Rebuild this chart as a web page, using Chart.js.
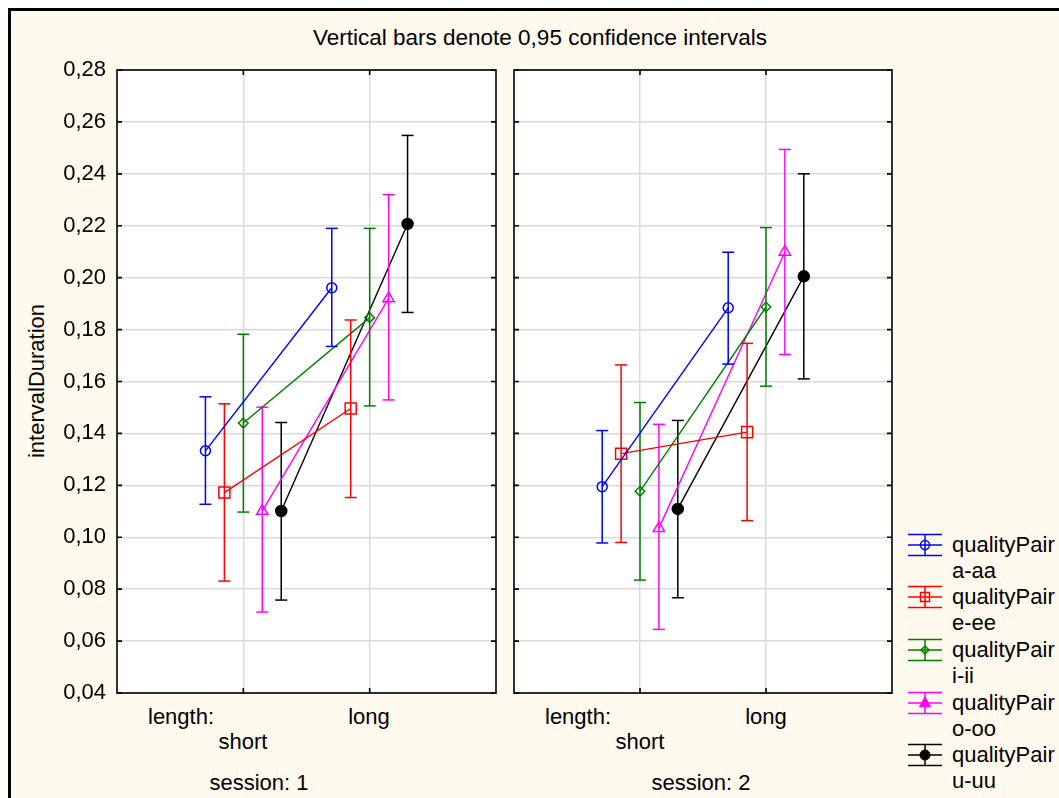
<!DOCTYPE html>
<html>
<head>
<meta charset="utf-8">
<script src="https://cdn.jsdelivr.net/npm/chart.js@4.4.0/dist/chart.umd.min.js"></script>
<style>
body { margin: 0; background: #fff; width: 1059px; height: 798px; overflow: hidden; position: relative; font-family: "Liberation Sans", Arial, sans-serif; color: #000; }
#frame { position: absolute; left: 8px; top: 8px; width: 1100px; height: 850px; border-left: 3px solid #000; border-top: 3px solid #000; background: #fff9ee; box-sizing: border-box; }
.t { position: absolute; font-size: 22px; line-height: 24px; white-space: nowrap; transform: translate(-50%, -50%); }
.l { position: absolute; font-size: 22px; line-height: 24px; white-space: nowrap; transform: translateY(-50%); }
canvas { position: absolute; }
.leg { position: absolute; left: 907px; }
.legtxt { position: absolute; left: 952px; font-size: 22px; line-height: 26px; white-space: nowrap; }
</style>
</head>
<body>
<div id="frame"></div>

<div class="t" style="left:540px;top:38px;font-size:22.5px">Vertical bars denote 0,95 confidence intervals</div>
<div class="t" style="left:37px;top:381px;transform:translate(-50%,-50%) rotate(-90deg)">intervalDuration</div>

<div class="l" style="left:148px;top:717px">length:</div>
<div class="t" style="left:243px;top:742px">short</div>
<div class="t" style="left:369px;top:717px">long</div>
<div class="t" style="left:259px;top:783px">session: 1</div>

<div class="l" style="left:545px;top:717px">length:</div>
<div class="t" style="left:640px;top:742px">short</div>
<div class="t" style="left:766px;top:717px">long</div>
<div class="t" style="left:701px;top:783px">session: 2</div>

<canvas id="p1" width="460" height="650" style="left:40px;top:58px"></canvas>
<canvas id="p2" width="400" height="650" style="left:500px;top:58px"></canvas>
<div id="legend"></div>

<script>
// categories and series
const categories = ['short', 'long'];
const pairs = ['a-aa', 'e-ee', 'i-ii', 'o-oo', 'u-uu'];
const colors = ['#0000ff', '#ff0000', '#008000', '#ff00ff', '#000000'];

// session 1: [short, long] per quality pair
const s1Mean  = [[0.1333, 0.1961], [0.1172, 0.1496], [0.1440, 0.1846], [0.1101, 0.1920], [0.1101, 0.2207]];
const s1Lower = [[0.1127, 0.1735], [0.0831, 0.1153], [0.1097, 0.1506], [0.0712, 0.1529], [0.0758, 0.1866]];
const s1Upper = [[0.1541, 0.2190], [0.1514, 0.1837], [0.1782, 0.2190], [0.1501, 0.2320], [0.1442, 0.2548]];

// session 2
const s2Mean  = [[0.1195, 0.1884], [0.1322, 0.1405], [0.1177, 0.1887], [0.1035, 0.2099], [0.1109, 0.2005]];
const s2Lower = [[0.0978, 0.1667], [0.0980, 0.1064], [0.0835, 0.1582], [0.0645, 0.1704], [0.0767, 0.1610]];
const s2Upper = [[0.1411, 0.2098], [0.1664, 0.1747], [0.1519, 0.2193], [0.1435, 0.2494], [0.1450, 0.2400]];

const yTicks = [0.04, 0.06, 0.08, 0.10, 0.12, 0.14, 0.16, 0.18, 0.20, 0.22, 0.24, 0.26, 0.28];

const offsets = [-0.3, -0.15, 0, 0.15, 0.3];
const pointStyles = ['circle', 'rect', 'rectRot', 'triangle', 'circle'];
const pointRadii = [5, 7.8, 4.8, 6.5, 5.5];
const fills = ['transparent', 'transparent', 'transparent', 'transparent', '#000000'];

const framePlugin = {
    id: 'frame',
    beforeDraw(chart) {
        const { ctx, chartArea: a } = chart;
        ctx.save();
        ctx.fillStyle = '#fff';
        ctx.fillRect(a.left, a.top, a.right - a.left, a.bottom - a.top);
        ctx.restore();
    },
    beforeDatasetsDraw(chart) {
        const { ctx, chartArea: a, scales } = chart;
        ctx.save();
        ctx.strokeStyle = '#000';
        ctx.lineWidth = 1.6;
        ctx.strokeRect(a.left, a.top, a.right - a.left, a.bottom - a.top);
        ctx.beginPath();
        scales.y.ticks.forEach(t => {
            const py = scales.y.getPixelForValue(t.value);
            ctx.moveTo(a.left, py); ctx.lineTo(a.left + 5, py);
            ctx.moveTo(a.right, py); ctx.lineTo(a.right - 5, py);
        });
        scales.x.ticks.forEach(t => {
            const px = scales.x.getPixelForValue(t.value);
            ctx.moveTo(px, a.top); ctx.lineTo(px, a.top + 5);
            ctx.moveTo(px, a.bottom); ctx.lineTo(px, a.bottom - 5);
        });
        ctx.stroke();
        ctx.restore();
    }
};

function buildDatasets(mean, lower, upper) {
    const ds = [];
    pairs.forEach((p, i) => {
        const xs = categories.map((c, j) => j + 1 + offsets[i]);
        ds.push({
            label: 'qualityPair ' + p,
            data: xs.map((x, j) => ({ x: x, y: mean[i][j] })),
            borderColor: colors[i],
            borderWidth: 1.4,
            pointStyle: pointStyles[i],
            pointRadius: pointRadii[i],
            pointBorderColor: colors[i],
            pointBackgroundColor: fills[i],
            pointBorderWidth: 1.5
        });
        const err = [];
        xs.forEach((x, j) => {
            if (j > 0) err.push({ x: x, y: null });
            err.push({ x: x, y: lower[i][j] });
            err.push({ x: x, y: upper[i][j] });
        });
        ds.push({
            label: 'ci ' + p,
            data: err,
            borderColor: colors[i],
            borderWidth: 1.5,
            pointStyle: 'line',
            pointRadius: 6,
            pointBorderColor: colors[i],
            pointBorderWidth: 1.5,
            spanGaps: false
        });
    });
    return ds;
}

function makePanel(id, mean, lower, upper, showY, padding, yWidth) {
    const ctx = document.getElementById(id).getContext('2d');
    return new Chart(ctx, {
        type: 'line',
        data: { datasets: buildDatasets(mean, lower, upper) },
        options: {
            responsive: false,
            animation: false,
            events: [],
            layout: { padding: padding, autoPadding: false },
            plugins: { legend: { display: false }, tooltip: { enabled: false } },
            scales: {
                x: {
                    type: 'linear', min: 0, max: 3,
                    afterBuildTicks: s => { s.ticks = [{ value: 1 }, { value: 2 }]; },
                    afterFit: s => { s.height = 0; s.paddingLeft = 0; s.paddingRight = 0; },
                    ticks: { display: false },
                    grid: { color: '#d9d9d9', lineWidth: 1.5, drawTicks: false },
                    border: { display: false }
                },
                y: {
                    type: 'linear', min: 0.04, max: 0.28,
                    afterBuildTicks: s => { s.ticks = yTicks.map(v => ({ value: v })); },
                    afterFit: s => { s.width = yWidth; s.paddingTop = 0; s.paddingBottom = 0; },
                    ticks: {
                        display: showY,
                        padding: 11,
                        color: '#000',
                        font: { family: '"Liberation Sans", Arial, sans-serif', size: 22 },
                        callback: v => v.toFixed(2).replace('.', ',')
                    },
                    grid: { color: '#d9d9d9', lineWidth: 1.5, drawTicks: false },
                    border: { display: false }
                }
            }
        },
        plugins: [framePlugin]
    });
}

makePanel('p1', s1Mean, s1Lower, s1Upper, true, { top: 12, right: 4, bottom: 15, left: 0 }, 77);
makePanel('p2', s2Mean, s2Lower, s2Upper, false, { top: 12, right: 8, bottom: 15, left: 14 }, 0);

// legend
const legRows = [545, 597, 650, 703, 755];
const icons = [
    '<circle cx="18" cy="12" r="4.5" fill="none" stroke="C" stroke-width="1.5"/>',
    '<rect x="13.5" y="7.5" width="9" height="9" fill="none" stroke="C" stroke-width="1.5"/>',
    '<polygon points="18,8 22,12 18,16 14,12" fill="none" stroke="C" stroke-width="1.5"/>',
    '<polygon points="18,6.5 23,15.5 13,15.5" fill="C" stroke="C" stroke-width="1.5"/>',
    '<circle cx="18" cy="12" r="5" fill="C" stroke="C" stroke-width="1"/>'
];
let html = '';
pairs.forEach((p, i) => {
    const c = colors[i];
    html += '<svg class="leg" width="36" height="24" style="top:' + (legRows[i] - 12) + 'px">' +
        '<g stroke="' + c + '" stroke-width="1.5">' +
        '<line x1="1" y1="1.5" x2="35" y2="1.5"/><line x1="1" y1="12" x2="35" y2="12"/>' +
        '<line x1="1" y1="22.5" x2="35" y2="22.5"/><line x1="18" y1="1.5" x2="18" y2="22.5"/></g>' +
        icons[i].replace(/C/g, c) + '</svg>';
    html += '<div class="legtxt" style="top:' + (legRows[i] - 13) + 'px">qualityPair<br>' + p + '</div>';
});
document.getElementById('legend').innerHTML = html;
</script>
</body>
</html>
